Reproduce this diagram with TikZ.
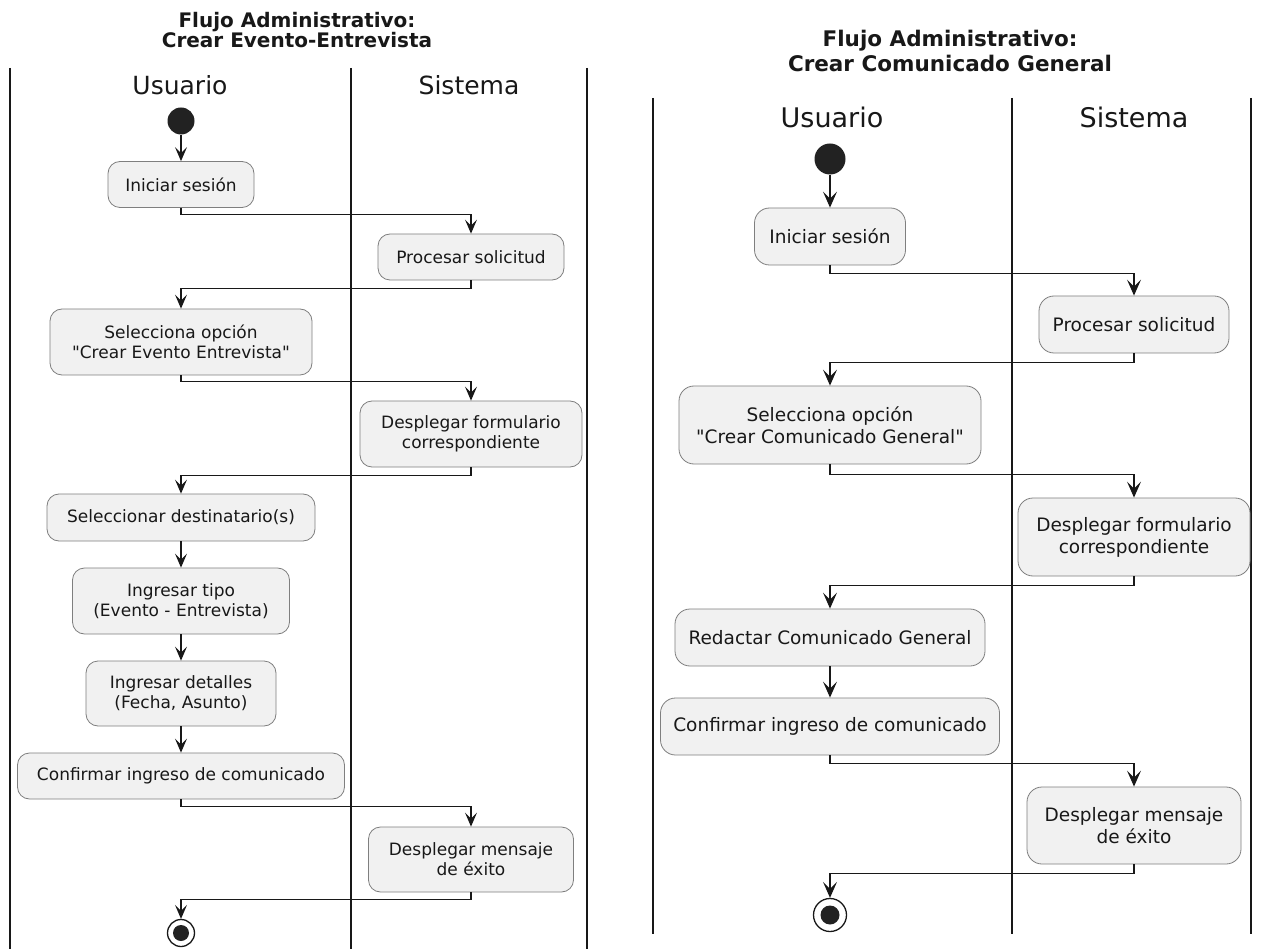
\documentclass[tikz,border=0pt]{standalone}
\usepackage{fontspec}
\setmainfont{DejaVu Sans}[Ligatures=TeXOff]
\usetikzlibrary{arrows.meta}
\definecolor{actfill}{HTML}{F1F1F1}
\definecolor{actline}{HTML}{7F7F7F}
\definecolor{ink}{HTML}{181818}
\definecolor{dot}{HTML}{222222}
\tikzset{
  lane/.style={draw=ink, line width=1.6pt},
  actA/.style={draw=actline, fill=actfill, line width=0.8pt, rounded corners=12pt,
    align=center, inner sep=0pt, text=ink, font=\fontsize{17}{20}\selectfont},
  actB/.style={actA, rounded corners=15pt, font=\fontsize{18.5}{22}\selectfont},
  headA/.style={inner sep=0pt, text=ink, font=\fontsize{25}{25}\selectfont},
  headB/.style={inner sep=0pt, text=ink, font=\fontsize{27}{27}\selectfont},
  titleA/.style={inner sep=0pt, align=center, text=ink, font=\bfseries\fontsize{20}{20}\selectfont},
  titleB/.style={inner sep=0pt, align=center, text=ink, font=\bfseries\fontsize{21.5}{25}\selectfont},
  flowA/.style={draw=ink, line width=1.2pt, -{Stealth[length=14pt,width=12pt,inset=6pt]}},
  flowB/.style={draw=ink, line width=1.3pt, -{Stealth[length=16pt,width=14pt,inset=7pt]}},
  startdot/.style={circle, fill=dot, inner sep=0pt},
  endring/.style={circle, draw=ink, fill=white, line width=1.3pt, inner sep=0pt},
  enddot/.style={circle, fill=dot, inner sep=0pt},
}
\begin{document}
\begin{tikzpicture}[x=1pt, y=-1pt]
\fill[white] (0,0) rectangle (1261,949);
\useasboundingbox (0,0) rectangle (1261,949);

% ---------- Crear Evento-Entrevista ----------
\node[titleA] (tA) at (297,30) {Flujo Administrativo:\\Crear Evento-Entrevista};
\draw[lane] (10,68) -- (10,949);
\draw[lane] (351,68) -- (351,949);
\draw[lane] (587,68) -- (587,949);
\node[headA] (uA) at (180,85) {Usuario};
\node[headA] (sA) at (469,85) {Sistema};

\node[startdot, minimum size=27pt] (s1) at (181,121) {};
\node[actA, minimum width=146pt, minimum height=46pt] (ini1) at (181,184.5) {Iniciar sesión};
\node[actA, minimum width=186pt, minimum height=46pt] (proc1) at (471,257) {Procesar solicitud};
\node[actA, minimum width=262pt, minimum height=66pt] (sel1) at (181,342) {Selecciona opción\\"Crear Evento Entrevista"};
\node[actA, minimum width=222pt, minimum height=66pt] (desp1) at (471,434) {Desplegar formulario\\correspondiente};
\node[actA, minimum width=268pt, minimum height=47pt] (dest1) at (181,517.5) {Seleccionar destinatario(s)};
\node[actA, minimum width=217pt, minimum height=66pt] (tipo1) at (181,601) {Ingresar tipo\\(Evento - Entrevista)};
\node[actA, minimum width=190pt, minimum height=65pt] (det1) at (181,693.5) {Ingresar detalles\\(Fecha, Asunto)};
\node[actA, minimum width=327pt, minimum height=46pt] (conf1) at (181,776) {Confirmar ingreso de comunicado};
\node[actA, minimum width=205pt, minimum height=65pt] (msg1) at (471,859.5) {Desplegar mensaje\\de éxito};
\node[endring, minimum size=27pt] (e1) at (181,933) {};
\node[enddot, minimum size=16pt] (e1c) at (e1) {};

\draw[flowA] (s1.south) -- (ini1.north);
\draw[flowA] (ini1.south) -- ++(0,7) -| (proc1.north);
\draw[flowA] (proc1.south) -- ++(0,8) -| (sel1.north);
\draw[flowA] (sel1.south) -- ++(0,6) -| (desp1.north);
\draw[flowA] (desp1.south) -- ++(0,8) -| (dest1.north);
\draw[flowA] (dest1.south) -- (tipo1.north);
\draw[flowA] (tipo1.south) -- (det1.north);
\draw[flowA] (det1.south) -- (conf1.north);
\draw[flowA] (conf1.south) -- ++(0,7) -| (msg1.north);
\draw[flowA] (msg1.south) -- ++(0,7) -| (e1.north);

% ---------- Crear Comunicado General ----------
\node[titleB] (tB) at (950,51) {Flujo Administrativo:\\Crear Comunicado General};
\draw[lane] (653,98) -- (653,934);
\draw[lane] (1012,98) -- (1012,934);
\draw[lane] (1251,98) -- (1251,934);
\node[headB] (uB) at (832,117) {Usuario};
\node[headB] (sB) at (1134,117) {Sistema};

\node[startdot, minimum size=31pt] (s2) at (830,159) {};
\node[actB, minimum width=151pt, minimum height=57pt] (ini2) at (830,236.5) {Iniciar sesión};
\node[actB, minimum width=190pt, minimum height=57pt] (proc2) at (1134,324.5) {Procesar solicitud};
\node[actB, minimum width=302pt, minimum height=78pt] (sel2) at (830,425) {Selecciona opción\\"Crear Comunicado General"};
\node[actB, minimum width=232pt, minimum height=78pt] (desp2) at (1134,537) {Desplegar formulario\\correspondiente};
\node[actB, minimum width=310pt, minimum height=57pt] (red2) at (830,637.5) {Redactar Comunicado General};
\node[actB, minimum width=339pt, minimum height=57pt] (conf2) at (830,726.5) {Confirmar ingreso de comunicado};
\node[actB, minimum width=214pt, minimum height=77pt] (msg2) at (1134,825.5) {Desplegar mensaje\\de éxito};
\node[endring, minimum size=33pt] (e2) at (830,915) {};
\node[enddot, minimum size=19pt] (e2c) at (e2) {};

\draw[flowB] (s2.south) -- (ini2.north);
\draw[flowB] (ini2.south) -- ++(0,8) -| (proc2.north);
\draw[flowB] (proc2.south) -- ++(0,9) -| (sel2.north);
\draw[flowB] (sel2.south) -- ++(0,10) -| (desp2.north);
\draw[flowB] (desp2.south) -- ++(0,9) -| (red2.north);
\draw[flowB] (red2.south) -- (conf2.north);
\draw[flowB] (conf2.south) -- ++(0,8) -| (msg2.north);
\draw[flowB] (msg2.south) -- ++(0,9) -| (e2.north);
\end{tikzpicture}
\end{document}
